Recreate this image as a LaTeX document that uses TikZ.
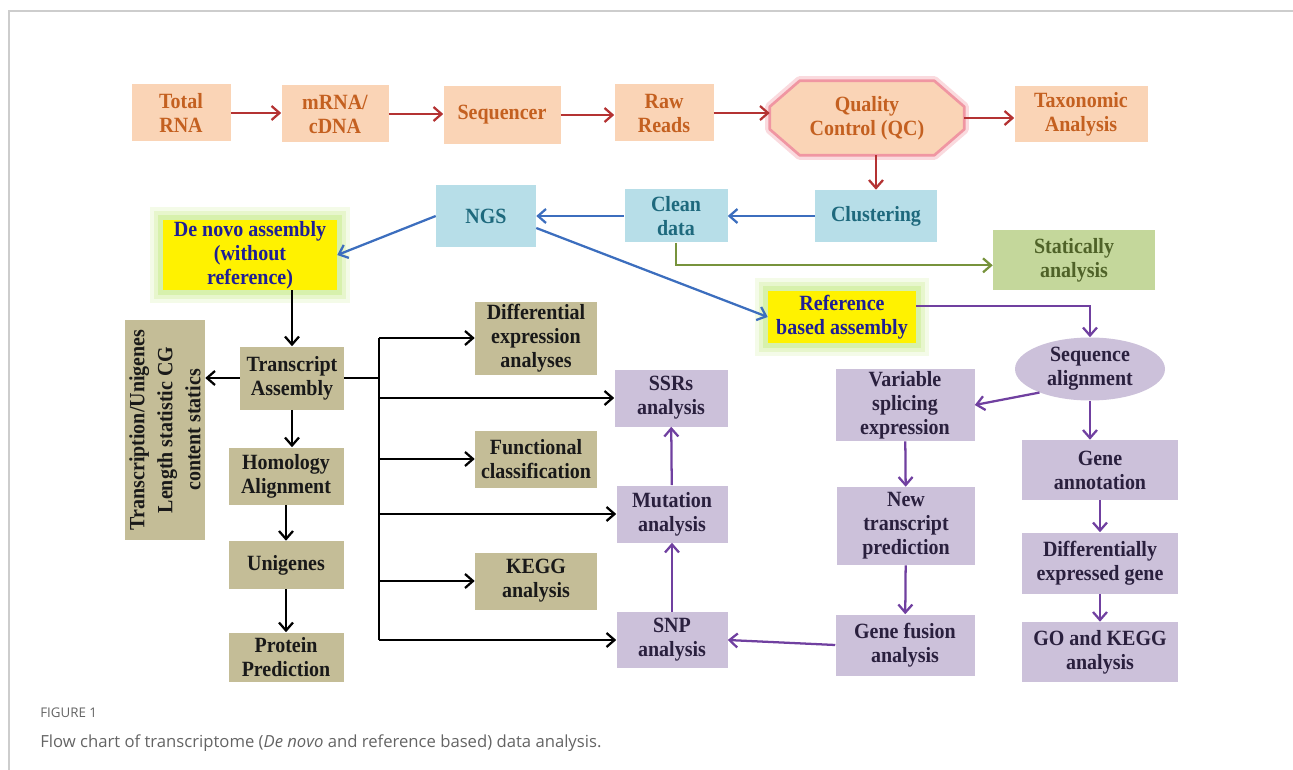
\documentclass[tikz,border=0pt]{standalone}
\usepackage{fontspec}
\setmainfont[FakeStretch=0.92]{Liberation Serif}
\newfontfamily\capfont{Open Sans}
\usetikzlibrary{arrows.meta,shapes.geometric,calc,backgrounds}

\definecolor{orfill}{RGB}{250,212,182}
\definecolor{ortext}{RGB}{196,96,32}
\definecolor{blfill}{RGB}{183,222,232}
\definecolor{bltext}{RGB}{30,105,125}
\definecolor{grfill}{RGB}{196,215,155}
\definecolor{grtext}{RGB}{79,98,40}
\definecolor{yetext}{RGB}{30,30,150}
\definecolor{glowc}{RGB}{200,235,140}
\definecolor{tnfill}{RGB}{196,189,151}
\definecolor{tntext}{RGB}{25,25,25}
\definecolor{pufill}{RGB}{204,193,218}
\definecolor{putext}{RGB}{42,32,62}
\definecolor{redline}{RGB}{180,50,50}
\definecolor{blueline}{RGB}{60,110,190}
\definecolor{greenline}{RGB}{119,147,60}
\definecolor{purpline}{RGB}{112,64,160}
\definecolor{qcedge}{RGB}{240,150,162}
\definecolor{framec}{RGB}{205,205,205}
\definecolor{capgray}{RGB}{100,100,100}

\tikzset{
	wh/.style 2 args={minimum width=#1*0.75pt, minimum height=#2*0.75pt},
	box/.style={rectangle, inner sep=0pt, align=center,
		font=\bfseries\fontsize{16.3}{18}\selectfont},
	orbox/.style={box, fill=orfill, text=ortext},
	blbox/.style={box, fill=blfill, text=bltext},
	grbox/.style={box, fill=grfill, text=grtext},
	yebox/.style={box, fill=yellow, text=yetext,
		preaction={draw=glowc, line width=20pt, opacity=.2, rounded corners=9pt},
		preaction={draw=glowc, line width=14pt, opacity=.3, rounded corners=6pt},
		preaction={draw=glowc, line width=8pt, opacity=.5, rounded corners=3pt}},
	tnbox/.style={box, fill=tnfill, text=tntext},
	pubox/.style={box, fill=pufill, text=putext},
	link/.style={->, line width=1.7pt},
}

\begin{document}
\begin{tikzpicture}[x=0.75pt, y=-0.75pt, >={Straight Barb[length=6pt,width=10.5pt]}]

	\useasboundingbox (0,0) rectangle (1293,770);
	\draw[framec, line width=1.2pt] (9,770) -- (9,11) -- (1293,11);

	% top row
	\node[orbox, wh={99}{57}] (total) at (181,113) {Total\\RNA};
	\node[orbox, wh={107}{57}] (mrna) at (335,114) {mRNA/\\cDNA};
	\node[orbox, wh={117}{58}] (seqr) at (502,115) {Sequencer};
	\node[orbox, wh={99}{57}] (raw) at (664,113) {Raw\\Reads};
	\node[box, text=ortext, wh={194}{74}] (qc) at (867,118) {Quality\\Control (QC)};
	\node[orbox, wh={133}{56}] (taxo) at (1081,114) {Taxonomic\\Analysis};

	\begin{scope}[on background layer]
		\filldraw[fill=orfill, draw=qcedge, line width=2pt, line join=round,
			preaction={draw=qcedge!35, line width=7pt, line join=round}]
			($(qc.north west)+(30,0)$) -- ($(qc.north east)+(-30,0)$)
			-- ($(qc.north east)+(0,26)$) -- ($(qc.south east)+(0,-26)$)
			-- ($(qc.south east)+(-30,0)$) -- ($(qc.south west)+(30,0)$)
			-- ($(qc.south west)+(0,-26)$) -- ($(qc.north west)+(0,26)$) -- cycle;
	\end{scope}

	% second row
	\node[blbox, wh={122}{52}] (clus) at (876,216) {Clustering};
	\node[blbox, wh={103}{53}] (clean) at (676,216) {Clean\\data};
	\node[blbox, wh={100}{62}] (ngs) at (486,216) {NGS};
	\node[grbox, wh={162}{59}] (stat) at (1074,260) {Statically\\analysis};
	\node[yebox, wh={174}{70}] (denovo) at (250,255) {De novo assembly\\(without\\reference)};
	\node[yebox, wh={148}{52}] (refb) at (842,317) {Reference\\based assembly};

	% de novo branch
	\node[tnbox, rotate=90, wh={220}{80}, font=\bfseries\fontsize{16.3}{21}\selectfont] (stats) at (165,430)
		{Transcription/Unigenes\\Length statistic CG\\content statics};
	\node[tnbox, wh={104}{63}] (tasm) at (292,378) {Transcript\\Assembly};
	\node[tnbox, wh={115}{57}] (homo) at (286,476) {Homology\\Alignment};
	\node[tnbox, wh={115}{48}] (unig) at (286,565) {Unigenes};
	\node[tnbox, wh={115}{49}] (prot) at (286,657) {Protein\\Prediction};
	\node[tnbox, wh={122}{73}] (diffe) at (536,338) {Differential\\expression\\analyses};
	\node[tnbox, wh={122}{57}] (func) at (536,459) {Functional\\classification};
	\node[tnbox, wh={122}{57}] (kegg) at (536,581) {KEGG\\analysis};

	% reference branch
	\node[ellipse, fill=pufill, text=putext, inner sep=0pt, align=center,
		font=\bfseries\fontsize{16.3}{18}\selectfont, wh={150}{63}] (seqal) at (1090,369) {Sequence\\alignment};
	\node[pubox, wh={139}{72}] (varsp) at (905,405) {Variable\\splicing\\expression};
	\node[pubox, wh={156}{60}] (genean) at (1100,470) {Gene\\annotation};
	\node[pubox, wh={138}{78}] (newtr) at (906,526) {New\\transcript\\prediction};
	\node[pubox, wh={156}{61}] (diffex) at (1100,563) {Differentially\\expressed gene};
	\node[pubox, wh={139}{61}] (gfus) at (905,645) {Gene fusion\\analysis};
	\node[pubox, wh={156}{60}] (goke) at (1100,652) {GO and KEGG\\analysis};
	\node[pubox, wh={113}{57}] (ssr) at (671,398) {SSRs\\analysis};
	\node[pubox, wh={111}{57}] (mut) at (672,514) {Mutation\\analysis};
	\node[pubox, wh={111}{56}] (snp) at (672,640) {SNP\\analysis};

	\coordinate (tr) at (379,378);

	% red arrows
	\foreach \i / \j in {total/mrna, mrna/seqr, seqr/raw, raw/qc, qc/taxo}
	{
		\draw[link, redline] (\i.east) -- (\i.east -| \j.west);
	};
	\draw[link, redline] (qc.south -| clus) -- (clus.north);

	% blue arrows
	\draw[link, blueline] (clus.west) -- (clean.east);
	\draw[link, blueline] (clean.west) -- (ngs.east);
	\draw[link, blueline] (ngs.west) -- (denovo.east);
	\draw[link, blueline] ([yshift=-9pt]ngs.east) -- (refb.west);
	\draw[link, greenline] (clean.south) |- ([yshift=-4pt]stat.west);

	% black arrows
	\draw[link] (denovo.south -| tasm) -- (tasm.north);
	\draw[link] (tasm.west) -- (tasm -| stats.south);
	\draw[link] (tasm.south) -- (tasm.south |- homo.north);
	\draw[link] (homo.south) -- (unig.north);
	\draw[link] (unig.south) -- (prot.north);
	\draw[line width=1.7pt] (tasm.east) -- (tr);
	\draw[line width=1.7pt] (tr |- diffe) -- (tr |- snp);
	\foreach \n in {diffe, ssr, func, mut, kegg, snp}
	{
		\draw[link] (tr |- \n) -- (\n.west);
	};

	% purple arrows
	\draw[link, purpline] ([yshift=8pt]refb.east) -| (seqal.north);
	\draw[link, purpline] (seqal.205) -- (varsp.east);
	\draw[link, purpline] (seqal.south) -- (seqal.south |- genean.north);
	\foreach \i / \j in {genean/diffex, diffex/goke, varsp/newtr, newtr/gfus, snp/mut, mut/ssr}
	{
		\draw[link, purpline] (\i) -- (\j);
	};
	\draw[link, purpline] (gfus.west) -- (snp.east);

	% caption
	\node[anchor=base west, inner sep=0pt, text=capgray, font=\capfont\fontsize{10}{12}\selectfont]
		(figlbl) at (40,717) {FIGURE 1};
	\node[anchor=base west, inner sep=0pt, text=capgray, font=\capfont\fontsize{12.5}{15}\selectfont]
		(figcap) at (40,747) {Flow chart of transcriptome (\textit{De novo} and reference based) data analysis.};

\end{tikzpicture}
\end{document}
